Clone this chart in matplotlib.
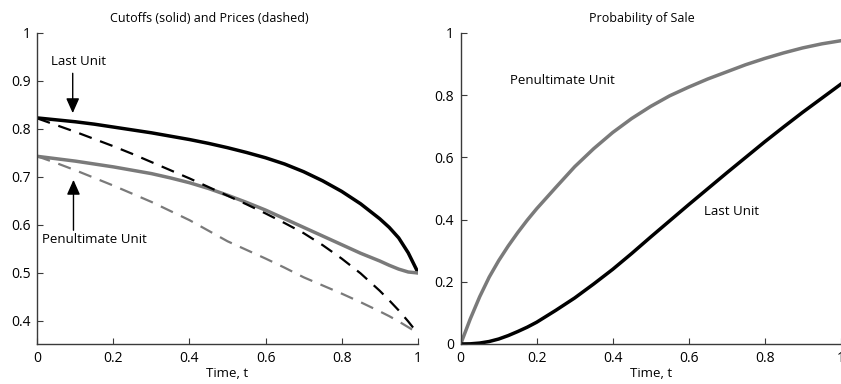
"""Cutoffs, prices and probability of sale for the last two units."""

import matplotlib
matplotlib.use("Agg")
import matplotlib.pyplot as plt

plt.rcParams["font.family"] = ["Open Sans", "DejaVu Sans"]

# left panel: cutoffs (solid) and prices (dashed)
t_left = [0.0, 0.05, 0.1, 0.15, 0.2, 0.25, 0.3, 0.35, 0.4, 0.45, 0.5, 0.55, 0.6,
          0.65, 0.7, 0.75, 0.8, 0.85, 0.9, 0.925, 0.95, 0.975, 1.0]
last_cutoff = [0.823, 0.819, 0.815, 0.810, 0.804, 0.798, 0.792, 0.785, 0.778, 0.770, 0.761, 0.751,
               0.740, 0.727, 0.711, 0.692, 0.670, 0.644, 0.613, 0.595, 0.573, 0.542, 0.502]
last_price = [0.822, 0.808, 0.794, 0.779, 0.764, 0.748, 0.731, 0.714, 0.697, 0.679, 0.661, 0.643,
              0.624, 0.604, 0.583, 0.558, 0.530, 0.499, 0.463, 0.443, 0.422, 0.399, 0.374]
penult_cutoff = [0.743, 0.738, 0.733, 0.727, 0.721, 0.714, 0.707, 0.698, 0.688, 0.676, 0.662, 0.647,
                 0.631, 0.613, 0.595, 0.577, 0.559, 0.541, 0.525, 0.516, 0.508, 0.502, 0.500]
penult_price = [0.743, 0.729, 0.714, 0.698, 0.682, 0.665, 0.648, 0.629, 0.610, 0.588, 0.566, 0.548,
                0.530, 0.511, 0.491, 0.474, 0.457, 0.439, 0.420, 0.410, 0.399, 0.387, 0.375]

# right panel: probability of sale
t_right = [0.0, 0.025, 0.05, 0.075, 0.1, 0.125, 0.15, 0.175, 0.2, 0.25, 0.3, 0.35, 0.4, 0.45,
           0.5, 0.55, 0.6, 0.65, 0.7, 0.75, 0.8, 0.85, 0.9, 0.95, 1.0]
last_prob = [0.0, 0.0005, 0.003, 0.008, 0.016, 0.027, 0.040, 0.054, 0.070, 0.108, 0.148, 0.193,
             0.240, 0.291, 0.344, 0.396, 0.448, 0.499, 0.550, 0.600, 0.650, 0.698, 0.745, 0.790, 0.835]
penult_prob = [0.0, 0.080, 0.152, 0.215, 0.268, 0.315, 0.358, 0.398, 0.435, 0.503, 0.570, 0.628,
               0.680, 0.725, 0.764, 0.798, 0.826, 0.852, 0.875, 0.898, 0.918, 0.936, 0.952, 0.965, 0.975]

ticks_x = [0, 0.2, 0.4, 0.6, 0.8, 1]
ticks_left_y = [0.4, 0.5, 0.6, 0.7, 0.8, 0.9, 1]
ticks_right_y = [0, 0.2, 0.4, 0.6, 0.8, 1]
tick_text_left_y = ["0.4", "0.5", "0.6", "0.7", "0.8", "0.9", "1"]
tick_text_right_y = ["0", "0.2", "0.4", "0.6", "0.8", "1"]
tick_text_x = ["0", "0.2", "0.4", "0.6", "0.8", "1"]

GRAY = "#7a7a7a"
AXIS = "#3a3a3a"
FS = 9

fig = plt.figure(figsize=(8.41, 3.84), dpi=100)
ax1 = fig.add_axes([0.0444, 0.1042, 0.4523, 0.8099])
ax2 = fig.add_axes([0.5478, 0.1042, 0.4518, 0.8099])


def style(ax, yticks, ylabels):
    for side in ("top", "right"):
        ax.spines[side].set_visible(False)
    for side in ("left", "bottom"):
        ax.spines[side].set_color(AXIS)
        ax.spines[side].set_linewidth(1.0)
    ax.set_xlim(0, 1)
    ax.set_xticks(ticks_x, tick_text_x)
    ax.set_yticks(yticks, ylabels)
    ax.tick_params(direction="in", length=4, width=0.8, color=AXIS,
                   labelsize=FS + 1, pad=5)
    ax.set_xlabel("Time, t", fontsize=FS + 0.5, labelpad=1)


ax1.plot(t_left, last_cutoff, color="black", lw=2.5)
ax1.plot(t_left, penult_cutoff, color=GRAY, lw=2.5)
ax1.plot(t_left, last_price, color="black", lw=1.6, linestyle=(0, (6, 4)))
ax1.plot(t_left, penult_price, color=GRAY, lw=1.6, linestyle=(0, (6, 4)))
ax1.set_ylim(0.352, 1)
style(ax1, ticks_left_y, tick_text_left_y)
ax1.set_title("Cutoffs (solid) and Prices (dashed)", fontsize=FS, pad=8, x=0.452)

arrow = dict(arrowstyle="-|>,head_length=0.9,head_width=0.4", color="black", lw=1.0,
             shrinkA=0, shrinkB=0)
ax1.annotate("", xy=(0.093, 0.833), xytext=(0.093, 0.916), arrowprops=arrow)
ax1.text(0.108, 0.940, "Last Unit", fontsize=FS + 0.5, ha="center", va="center")
ax1.annotate("", xy=(0.095, 0.694), xytext=(0.095, 0.589), arrowprops=arrow)
ax1.text(0.150, 0.569, "Penultimate Unit", fontsize=FS + 0.5, ha="center", va="center")

ax2.plot(t_right, penult_prob, color=GRAY, lw=2.5)
ax2.plot(t_right, last_prob, color="black", lw=2.5)
ax2.set_ylim(0, 1)
style(ax2, ticks_right_y, tick_text_right_y)
ax2.set_title("Probability of Sale", fontsize=FS, pad=8, x=0.477)
ax2.text(0.267, 0.846, "Penultimate Unit", fontsize=FS + 0.5, ha="center", va="center")
ax2.text(0.714, 0.425, "Last Unit", fontsize=FS + 0.5, ha="center", va="center")

fig.savefig("out.png", dpi=100)
